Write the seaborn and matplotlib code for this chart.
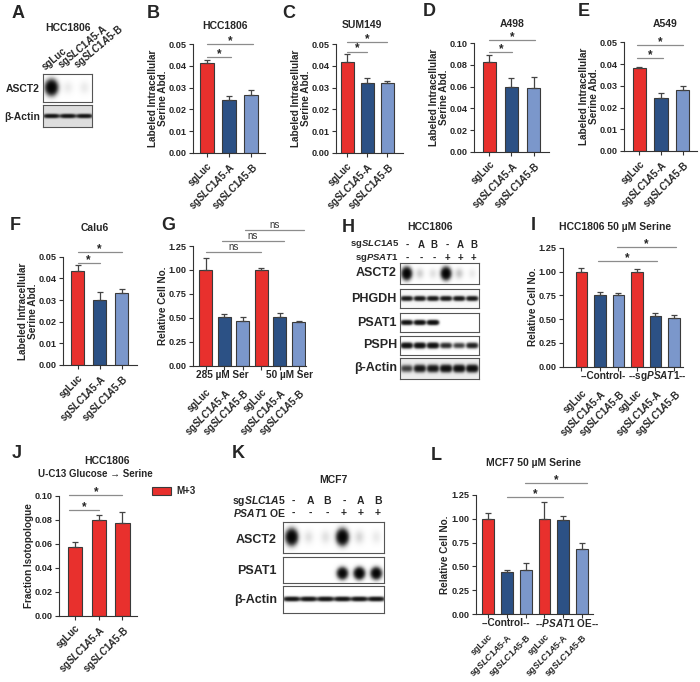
import numpy as np
import pandas as pd
import matplotlib
matplotlib.use('Agg')
import matplotlib.pyplot as plt
import matplotlib.patches as mpatches
from matplotlib.ticker import FormatStrFormatter
import seaborn as sns

sns.set_theme(style='ticks')
plt.rcParams['font.family'] = ['Liberation Sans', 'DejaVu Sans']
plt.rcParams['font.weight'] = 'bold'
plt.rcParams['axes.labelweight'] = 'bold'
plt.rcParams['mathtext.fontset'] = 'custom'
plt.rcParams['mathtext.rm'] = 'Liberation Sans:bold'
plt.rcParams['mathtext.it'] = 'Liberation Sans:italic:bold'
plt.rcParams['mathtext.bf'] = 'Liberation Sans:bold'

RED, DBLUE, LBLUE = '#E8302D', '#2C5185', '#7B97CB'
EDGE, ERRC, SIGC, AXC = '#3a3a3a', '#444444', '#8c8c8c', '#333333'

# ---------------- data ----------------
lab3 = ['sgLuc', r'sg$\mathit{SLC1A5}$-A', r'sg$\mathit{SLC1A5}$-B']
lab6 = lab3 + lab3
col3 = [RED, DBLUE, LBLUE]
col6 = col3 + col3

b_vals = [0.0412, 0.0243, 0.0266]; b_errs = [0.0015, 0.0018, 0.0023]
c_vals = [0.0419, 0.0320, 0.0320]; c_errs = [0.0035, 0.0023, 0.0010]
d_vals = [0.083, 0.060, 0.059];    d_errs = [0.0062, 0.0083, 0.0102]
e_vals = [0.0380, 0.0245, 0.0281]; e_errs = [0.0008, 0.0023, 0.0019]
f_vals = [0.0434, 0.0300, 0.0331]; f_errs = [0.0028, 0.0036, 0.0019]
g_vals = [1.0, 0.505, 0.47, 1.0, 0.51, 0.455]; g_errs = [0.12, 0.032, 0.035, 0.018, 0.036, 0.012]
i_vals = [1.0, 0.755, 0.748, 1.0, 0.535, 0.508]; i_errs = [0.033, 0.025, 0.022, 0.025, 0.024, 0.033]
j_vals = [0.0572, 0.0800, 0.0777]; j_errs = [0.0042, 0.0041, 0.0092]
l_vals = [1.0, 0.44, 0.465, 1.0, 0.985, 0.68]; l_errs = [0.065, 0.022, 0.068, 0.18, 0.047, 0.07]

# blot band intensities (per lane)
a_asct2 = [1.0, 0.02, 0.02]
a_actin = [1.0, 1.0, 1.0]
h_lanes_slc = ['-', 'A', 'B', '-', 'A', 'B']
h_lanes_psat = ['-', '-', '-', '+', '+', '+']
h_asct2 = [1.0, 0.05, 0.03, 1.0, 0.06, 0.02]
h_phgdh = [0.8, 0.8, 0.8, 0.8, 0.8, 0.8]
h_psat1 = [0.9, 0.95, 1.0, 0.0, 0.0, 0.0]
h_psph = [0.95, 0.95, 0.95, 0.6, 0.45, 0.7]
h_actin = [0.45, 0.8, 0.8, 0.95, 0.95, 1.0]
k_lanes_slc = ['-', 'A', 'B', '-', 'A', 'B']
k_lanes_oe = ['-', '-', '-', '+', '+', '+']
k_asct2 = [1.0, 0.03, 0.03, 1.0, 0.04, 0.02]
k_psat1 = [0.0, 0.0, 0.0, 0.9, 1.0, 0.95]
k_actin = [0.85, 0.85, 0.85, 0.85, 0.85, 0.85]

# ---------------- helpers ----------------
W, H = 700, 682
fig = plt.figure(figsize=(7, 6.82), dpi=100)


def add_ax(l, t, r, b):
    return fig.add_axes([l / W, 1 - b / H, (r - l) / W, (b - t) / H])


def ftext(x, y, s, **kw):
    kw.setdefault('ha', 'center')
    kw.setdefault('va', 'center')
    kw.setdefault('fontweight', 'bold')
    fig.text(x / W, 1 - y / H, s, **kw)


def bar_panel(box, labels, vals, errs, colors, ylim, ystep, xlim, width, ylabel,
              sig=(), groups=(), xpad=2.5, xfs=6.9, ylabpx=25):
    ax = add_ax(*box)
    n = len(vals)
    keys = [f'k{i}' for i in range(n)]
    df = pd.DataFrame({'key': keys, 'val': vals})
    sns.barplot(data=df, x='key', y='val', hue='key', order=keys, hue_order=keys,
                palette=dict(zip(keys, colors)), dodge=False, legend=False, saturation=1,
                errorbar=None, width=width, edgecolor=EDGE, linewidth=0.8, ax=ax)
    ax.errorbar(np.arange(n), vals, yerr=[np.zeros(n), errs], fmt='none',
                ecolor=ERRC, elinewidth=0.9, capsize=2.3, capthick=0.9, zorder=4)
    ax.set_xlim(*xlim)
    ax.set_ylim(*ylim)
    ax.set_yticks(np.arange(ylim[0], ylim[1] + ystep / 2, ystep))
    ax.yaxis.set_major_formatter(FormatStrFormatter('%.2f'))
    ax.set_xticks(np.arange(n))
    ax.set_xticklabels(labels, rotation=45, ha='right', va='top', rotation_mode='anchor',
                       fontsize=xfs, fontweight='bold')
    ax.tick_params(axis='y', labelsize=6.6, length=3, width=0.8, color=AXC, pad=1.5)
    ax.tick_params(axis='x', length=3, width=0.8, color=AXC, pad=xpad)
    for lb in ax.get_yticklabels():
        lb.set_fontweight('bold')
    ax.set_xlabel('')
    ax.set_ylabel(ylabel, fontsize=7.2, fontweight='bold', linespacing=1.0)
    axw = box[2] - box[0]
    ax.yaxis.set_label_coords(-ylabpx / axw, 0.5)
    sns.despine(ax=ax)
    for s in ('left', 'bottom'):
        ax.spines[s].set_color(AXC)
        ax.spines[s].set_linewidth(0.8)
    for x1, x2, y, t in sig:
        ax.plot([x1, x2], [y, y], color=SIGC, lw=0.9, clip_on=False, zorder=5)
        if t == '*':
            ax.text((x1 + x2) / 2, y, t, ha='center', va='baseline', fontsize=8.5,
                    fontweight='bold', color='#222222', clip_on=False)
        else:
            ax.text((x1 + x2) / 2, y, t, ha='center', va='bottom', fontsize=7,
                    fontweight='normal', color='#333333', clip_on=False)
    for x, t in groups:
        ax.text(x, -0.077, t, transform=ax.get_xaxis_transform(), ha='center', va='center',
                fontsize=7.2, fontweight='bold')
    return ax


def blot(box, intens, sx=0.42, sy=0.12, yc=0.5, bg=1.0, gain=3.0, shape=4):
    ax = add_ax(*box)
    n = len(intens)
    xs = np.linspace(-0.5, n - 0.5, n * 30)
    ys = np.linspace(0, 1, 60)
    X, Y = np.meshgrid(xs, ys)
    dens = np.zeros_like(X)
    for i, a in enumerate(intens):
        dens += a * np.exp(-np.abs((X - i) / sx) ** shape - ((Y - yc) / sy) ** 2)
    img = bg * np.exp(-gain * dens)
    ax.imshow(img, cmap='gray', vmin=0, vmax=1, extent=(-0.5, n - 0.5, 1, 0),
              aspect='auto', interpolation='bilinear')
    ax.set_xticks([]); ax.set_yticks([])
    for s in ax.spines.values():
        s.set_visible(True); s.set_color('#555555'); s.set_linewidth(0.8)
    return ax


def lane_centers(l, r, n):
    w = (r - l) / n
    return [l + (i + 0.5) * w for i in range(n)]


# ---------------- panel letters ----------------
for letter, x, y in [('A', 18, 13), ('B', 153, 13), ('C', 289, 13), ('D', 429, 11),
                     ('E', 584, 11), ('F', 15, 226), ('G', 168, 226), ('H', 348, 228),
                     ('I', 533, 226), ('J', 17, 454), ('K', 238, 454), ('L', 436, 456)]:
    ftext(x, y, letter, fontsize=13)

# ---------------- A ----------------
ftext(68, 28, 'HCC1806', fontsize=7.5)
for xc, t in zip(lane_centers(43, 92, 3), lab3):
    fig.text((xc - 4) / W, 1 - 72 / H, t, rotation=40, ha='left', va='bottom',
             rotation_mode='anchor', fontsize=7, fontweight='bold')
blot((43, 74, 92, 102), a_asct2, sx=0.3, sy=0.22, yc=0.48, gain=4, shape=2)
blot((43, 105, 92, 127), a_actin, sx=0.45, sy=0.08, bg=0.87, gain=2.5)
ftext(40, 89, 'ASCT2', fontsize=7.5, ha='right')
ftext(40, 117, 'β-Actin', fontsize=7.5, ha='right')

# ---------------- B-F ----------------
YL = 'Labeled Intracellular\nSerine Abd.'
ftext(225, 26, 'HCC1806', fontsize=7.5)
bar_panel((193, 44, 265, 153), lab3, b_vals, b_errs, col3, (0, 0.05), 0.01, (-0.64, 2.64), 0.6, YL,
          sig=[(0, 1.1, 0.0439, '*'), (0, 2.1, 0.050, '*')])
ftext(362, 25, 'SUM149', fontsize=7.5)
bar_panel((336, 44, 403, 153), lab3, c_vals, c_errs, col3, (0, 0.05), 0.01, (-0.55, 2.8), 0.65, YL,
          sig=[(0, 1.0, 0.0465, '*'), (0, 2.0, 0.051, '*')])
ftext(512, 24, 'A498', fontsize=7.5)
bar_panel((474, 43.3, 549, 151.7), lab3, d_vals, d_errs, col3, (0, 0.10), 0.02, (-0.69, 2.7), 0.6, YL,
          sig=[(0, 1.05, 0.092, '*'), (0, 2.05, 0.103, '*')])
ftext(665, 24, 'A549', fontsize=7.5)
bar_panel((624, 42.3, 697, 151), lab3, e_vals, e_errs, col3, (0, 0.05), 0.01, (-0.71, 2.67), 0.62, YL,
          sig=[(-0.1, 1.1, 0.0426, '*'), (-0.1, 2.0, 0.0488, '*')])
ftext(95, 228, 'Calu6', fontsize=7.5)
bar_panel((63, 256.7, 137, 365), lab3, f_vals, f_errs, col3, (0, 0.05), 0.01, (-0.66, 2.7), 0.6, YL,
          sig=[(0, 1.0, 0.0472, '*'), (0, 2.0, 0.052, '*')])

# ---------------- G ----------------
bar_panel((192.5, 246, 306, 365.7), lab6, g_vals, g_errs, col6, (0, 1.25), 0.25, (-0.7, 5.4), 0.7,
          'Relative Cell No.',
          sig=[(0, 3.0, 1.184, 'ns'), (0.9, 4.2, 1.30, 'ns'), (2.1, 5.3, 1.42, 'ns')],
          groups=[(0.9, '285 µM Ser'), (4.5, '50 µM Ser')], xpad=12)

# ---------------- H ----------------
ftext(430, 227, 'HCC1806', fontsize=7.5)
hx = lane_centers(400, 479, 6)
ftext(399, 244.5, r'sg$\mathit{SLC1A5}$', fontsize=6.8, ha='right')
ftext(399, 257.5, r'sg$\mathit{PSAT1}$', fontsize=6.8, ha='right')
for xc, t1, t2 in zip(hx, h_lanes_slc, h_lanes_psat):
    ftext(xc + 1, 244.5, t1, fontsize=7)
    ftext(xc + 1, 257.5, t2, fontsize=7)
blot((400, 263, 479, 284), h_asct2, sx=0.3, sy=0.24, gain=4, shape=2)
blot((400, 289, 479, 308), h_phgdh, sy=0.11, bg=0.97)
blot((400, 313, 479, 332), h_psat1, sy=0.11)
blot((400, 336, 479, 355), h_psph, sy=0.13)
blot((400, 358, 479, 379), h_actin, sy=0.15, bg=0.93)
for y, t in [(273.5, 'ASCT2'), (298.5, 'PHGDH'), (322.5, 'PSAT1'), (345.5, 'PSPH'), (368.5, 'β-Actin')]:
    ftext(397, y, t, fontsize=9, ha='right')

# ---------------- I ----------------
ftext(615, 227, 'HCC1806 50 µM Serine', fontsize=7.5)
bar_panel((563, 247.7, 683, 366.7), lab6, i_vals, i_errs, col6, (0, 1.25), 0.25, (-0.99, 5.49), 0.62,
          'Relative Cell No.',
          sig=[(0.92, 4.08, 1.11, '*'), (1.91, 5.12, 1.26, '*')],
          groups=[(1.2, '--Control-'), (4.1, r'--sg$\mathit{PSAT1}$--')], xpad=12)

# ---------------- J ----------------
ftext(107, 461, 'HCC1806', fontsize=7.5)
ftext(95, 474, 'U-C13 Glucose → Serine', fontsize=7)
axj = bar_panel((58.5, 496, 136.7, 615.7), lab3, j_vals, j_errs, [RED, RED, RED], (0, 0.10), 0.02,
                (-0.7, 2.6), 0.61, 'Fraction Isotopologue',
                sig=[(-0.25, 1.0, 0.0883, '*'), (-0.25, 2.0, 0.1008, '*')])
axj.legend(handles=[mpatches.Patch(facecolor=RED, edgecolor=EDGE, linewidth=0.8, label='M+3')],
           loc='upper left', bbox_to_anchor=(150 / W, 1 - 484 / H), bbox_transform=fig.transFigure,
           frameon=False, handlelength=2.0, handleheight=0.9, fontsize=7, borderaxespad=0,
           borderpad=0.2, handletextpad=0.5)

# ---------------- K ----------------
ftext(333, 480, 'MCF7', fontsize=7.5)
kx = lane_centers(282.7, 384.3, 6)
ftext(286, 501, r'sg$\mathit{SLC1A5}$', fontsize=7.5, ha='right')
ftext(286, 513, r'$\mathit{PSAT1}$ OE', fontsize=7.5, ha='right')
for xc, t1, t2 in zip(kx, k_lanes_slc, k_lanes_oe):
    ftext(xc + 2, 501, t1, fontsize=7.5)
    ftext(xc + 2, 513, t2, fontsize=7.5)
blot((282.7, 521.7, 384.3, 553), k_asct2, sx=0.28, sy=0.2, gain=4, shape=2)
blot((282.7, 556.7, 384.3, 582.7), k_psat1, sx=0.25, sy=0.18, yc=0.63, gain=4, shape=2)
blot((282.7, 586, 384.3, 613.3), k_actin, sx=0.46, sy=0.07, gain=3)
for y, t in [(540, 'ASCT2'), (571, 'PSAT1'), (600, 'β-Actin')]:
    ftext(277, y, t, fontsize=9, ha='right')

# ---------------- L ----------------
ftext(533, 463, 'MCF7 50 µM Serine', fontsize=7.5)
bar_panel((475.5, 495, 593, 614), lab6, l_vals, l_errs, col6, (0, 1.25), 0.25, (-0.68, 5.59), 0.62,
          'Relative Cell No.',
          sig=[(0.98, 4.0, 1.232, '*'), (1.96, 5.26, 1.373, '*')],
          groups=[(0.95, '--Control--'), (4.2, r'--$\mathit{PSAT1}$ OE--')], xpad=10, xfs=6.4)

fig.savefig('out.png', dpi=100)
